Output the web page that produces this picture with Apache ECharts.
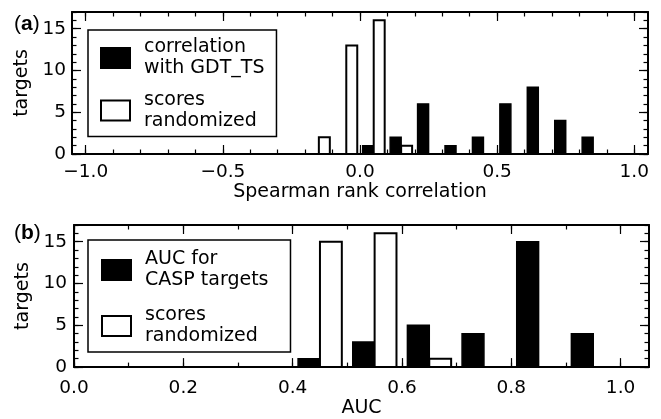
<!DOCTYPE html>
<html><head><meta charset="utf-8">
<script src="https://cdn.jsdelivr.net/npm/echarts@6/dist/echarts.min.js"></script>
<style>html,body{margin:0;padding:0;background:#fff}#c{width:661px;height:419px}</style>
</head><body><div id="c"></div>
<script>
// ---- Panel (a): Spearman rank correlation histogram (bin start, counts) ----
const binsA = [-0.2, -0.1, 0.0, 0.1, 0.2, 0.3, 0.4, 0.5, 0.6, 0.7, 0.8];
const gdtA  = [0, 0, 1, 2, 6, 1, 2, 6, 8, 4, 2];
const randA = [2, 13, 16, 1, 0, 0, 0, 0, 0, 0, 0];
// ---- Panel (b): AUC histogram ----
const binsB = [0.4, 0.5, 0.6, 0.7, 0.8, 0.9];
const aucB  = [1, 3, 5, 4, 15, 4];
const randB = [15, 16, 1, 0, 0, 0];
// ---- tick values ----
const xMajorA = [-1.0, -0.5, 0.0, 0.5, 1.0];
const xMinorA = [-1.0,-0.9,-0.8,-0.7,-0.6,-0.5,-0.4,-0.3,-0.2,-0.1,0,0.1,0.2,0.3,0.4,0.5,0.6,0.7,0.8,0.9,1.0];
const xMajorB = [0.0, 0.2, 0.4, 0.6, 0.8, 1.0];
const xMinorB = [0,0.1,0.2,0.3,0.4,0.5,0.6,0.7,0.8,0.9,1.0];
const yMajor = [0, 5, 10, 15];
const yMinor = [0,1,2,3,4,5,6,7,8,9,10,11,12,13,14,15,16,17];
const names = { gdt: 'correlation\nwith GDT_TS', auc: 'AUC for\nCASP targets', rand: 'scores\nrandomized' };

const FONT = 'DejaVu Sans';
const TICK = 18.5, TITLE = 19;

function fmtX(v) { return (v < 0 ? '\u2212' : '') + Math.abs(v).toFixed(1); }
const LINE = (show) => ({ show: show, onZero: false, lineStyle: { color: '#000', width: 2 } });
const tick = (vals, len) => ({ show: true, inside: true, length: len, customValues: vals, lineStyle: { color: '#000', width: 1.2 } });

function xAxes(grid, min, max, major, minor, name, margin, gap) {
  const base = { type: 'value', gridIndex: grid, min: min, max: max, splitLine: { show: false } };
  return [
    Object.assign({}, base, { position: 'bottom', axisLine: LINE(true),
      axisTick: tick(major, 9),
      axisLabel: { show: true, customValues: major, formatter: fmtX, color: '#000', fontFamily: FONT, fontSize: TICK, margin: margin },
      name: name, nameLocation: 'middle', nameGap: gap, nameTextStyle: { color: '#000', fontFamily: FONT, fontSize: TITLE } }),
    Object.assign({}, base, { position: 'bottom', axisLine: LINE(false), axisTick: tick(minor, 4.5), axisLabel: { show: false } }),
    Object.assign({}, base, { position: 'top', axisLine: LINE(true), axisTick: tick(major, 9), axisLabel: { show: false } }),
    Object.assign({}, base, { position: 'top', axisLine: LINE(false), axisTick: tick(minor, 4.5), axisLabel: { show: false } })
  ];
}
function yAxes(grid, margin, gap) {
  const base = { type: 'value', gridIndex: grid, min: 0, max: 17, splitLine: { show: false } };
  return [
    Object.assign({}, base, { position: 'left', axisLine: LINE(true),
      axisTick: tick(yMajor, 9),
      axisLabel: { show: true, customValues: yMajor, color: '#000', fontFamily: FONT, fontSize: TICK, margin: margin },
      name: 'targets', nameLocation: 'middle', nameGap: gap, nameTextStyle: { color: '#000', fontFamily: FONT, fontSize: TITLE } }),
    Object.assign({}, base, { position: 'left', axisLine: LINE(false), axisTick: tick(yMinor, 4.5), axisLabel: { show: false } }),
    Object.assign({}, base, { position: 'right', axisLine: LINE(true), axisTick: tick(yMajor, 9), axisLabel: { show: false } }),
    Object.assign({}, base, { position: 'right', axisLine: LINE(false), axisTick: tick(yMinor, 4.5), axisLabel: { show: false } })
  ];
}

function histSeries(name, bins, counts, xi, yi, lo, hi, fill, bw) {
  return {
    type: 'custom', name: name, xAxisIndex: xi, yAxisIndex: yi,
    itemStyle: { color: fill, borderColor: '#000', borderWidth: bw },
    encode: { x: 0, y: 1 },
    data: bins.map((b, i) => [b, counts[i]]),
    renderItem: function (params, api) {
      const b = api.value(0), v = api.value(1);
      if (!v) return null;
      const p0 = api.coord([b + lo, v]);
      const p1 = api.coord([b + hi, 0]);
      return { type: 'rect', shape: { x: p0[0], y: p0[1], width: p1[0] - p0[0], height: p1[1] - p0[1] },
        style: { fill: fill, stroke: '#000', lineWidth: bw } };
    },
    z: 1
  };
}

const legendBase = {
  orient: 'vertical', icon: 'rect', itemWidth: 29, itemHeight: 20,
  borderColor: '#000', borderWidth: 1.5, backgroundColor: '#fff', borderRadius: 0,
  selectedMode: false, z: 10,
  textStyle: { color: '#000', fontFamily: FONT, fontSize: TITLE, lineHeight: 21, padding: [0, 0, 0, 9] }
};
const panelLabel = (ch) => ({ text: '{n|(}{b|' + ch + '}{n|)}', rich: {
  n: { fontFamily: 'Liberation Sans', fontSize: 21, fill: '#000' },
  b: { fontFamily: 'Liberation Sans', fontSize: 21, fontWeight: 'bold', fill: '#000' } } });

const chart = echarts.init(document.getElementById('c'), null, { renderer: 'canvas' });
chart.setOption({
  backgroundColor: '#fff',
  animation: false,
  grid: [
    { left: 72, top: 12, width: 576, height: 142 },
    { left: 74, top: 225, width: 575, height: 144 }
  ],
  xAxis: [].concat(
    xAxes(0, -1.05, 1.05, xMajorA, xMinorA, 'Spearman rank correlation', 9, 24),
    xAxes(1, 0, 1.052, xMajorB, xMinorB, 'AUC', 12, 27)
  ),
  yAxis: [].concat(yAxes(0, 6, 38), yAxes(1, 7, 40)),
  legend: [
    Object.assign({}, legendBase, { left: 88, top: 30, padding: [7, 12, 5, 12], itemGap: 10.5, data: [names.gdt, names.rand] }),
    Object.assign({}, legendBase, { left: 88, top: 240, padding: [9, 22, 5, 13], itemGap: 14, data: [names.auc, names.rand] })
  ],
  graphic: [
    { type: 'text', left: 14, top: 14, style: panelLabel('a') },
    { type: 'text', left: 14, top: 223, style: panelLabel('b') }
  ],
  series: [
    histSeries(names.gdt, binsA, gdtA, 0, 0, 0.01, 0.05, '#000', 1.5),
    histSeries(names.rand, binsA, randA, 0, 0, 0.05, 0.09, '#fff', 2),
    histSeries(names.auc, binsB, aucB, 4, 4, 0.01, 0.05, '#000', 1.5),
    histSeries(names.rand, binsB, randB, 4, 4, 0.05, 0.09, '#fff', 2)
  ]
});
</script>
</body></html>
